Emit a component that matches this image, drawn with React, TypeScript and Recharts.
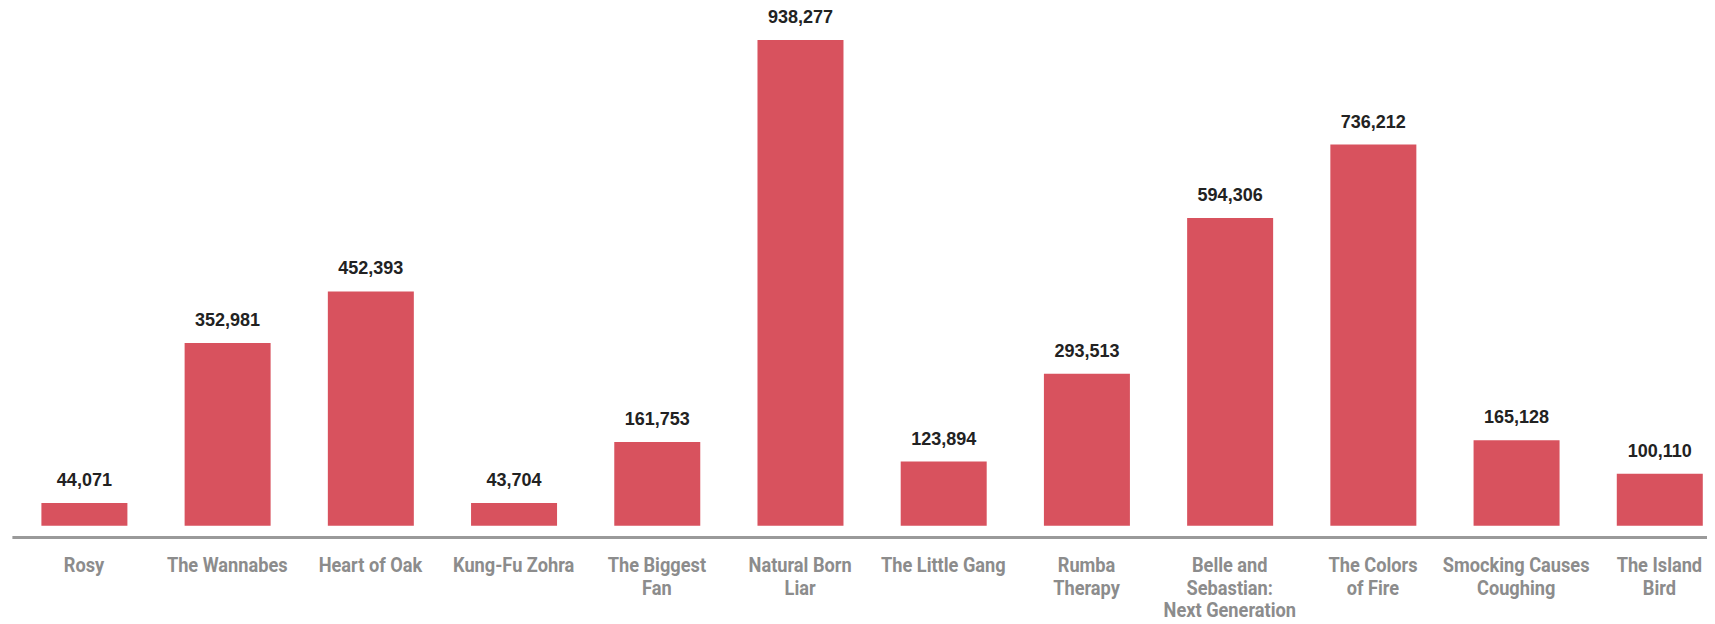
import React from "react";
import { BarChart, Bar, XAxis, YAxis, LabelList } from "recharts";

const categories = [
  "Rosy",
  "The Wannabes",
  "Heart of Oak",
  "Kung-Fu Zohra",
  "The Biggest Fan",
  "Natural Born Liar",
  "The Little Gang",
  "Rumba Therapy",
  "Belle and Sebastian: Next Generation",
  "The Colors of Fire",
  "Smocking Causes Coughing",
  "The Island Bird",
];

const values = [44071, 352981, 452393, 43704, 161753, 938277, 123894, 293513, 594306, 736212, 165128, 100110];

const tickLines = [
  ["Rosy"],
  ["The Wannabes"],
  ["Heart of Oak"],
  ["Kung-Fu Zohra"],
  ["The Biggest", "Fan"],
  ["Natural Born", "Liar"],
  ["The Little Gang"],
  ["Rumba", "Therapy"],
  ["Belle and", "Sebastian:", "Next Generation"],
  ["The Colors", "of Fire"],
  ["Smocking Causes", "Coughing"],
  ["The Island", "Bird"],
];

const data = categories.map((name, i) => ({ name, value: values[i], lines: tickLines[i] }));

const LABEL_FONT = "Roboto, 'Liberation Sans', sans-serif";
const VALUE_FONT = "'Liberation Sans', Arial, Helvetica, sans-serif";

const CustomTick = (props: any) => {
  const { x, y, payload } = props;
  const lines: string[] = tickLines[payload.index] || [String(payload.value)];
  return (
    <g transform={`translate(${x},${y}) scale(0.91,1)`}>
      <text
        textAnchor="middle"
        fill="#8c8c8c"
        fontFamily={LABEL_FONT}
        fontWeight="bold"
        fontSize={20}
      >
        {lines.map((l, i) => (
          <tspan key={i} x={0} y={35 + i * 22.5}>
            {l}
          </tspan>
        ))}
      </text>
    </g>
  );
};

export default function App() {
  return (
    <div style={{ width: 1707, height: 616, overflow: "hidden", background: "#fff" }}>
      <BarChart
        width={1723}
        height={616}
        data={data}
        margin={{ top: 0, right: 0, bottom: 6.5, left: 4.4 }}
      >
        <XAxis
          dataKey="name"
          interval={0}
          height={80}
          tickLine={false}
          tickSize={0}
          tickMargin={0}
          axisLine={{ stroke: "#9a9a9a", strokeWidth: 3 }}
          tick={<CustomTick />}
        />
        <YAxis hide domain={[-22800, 1000000]} allowDataOverflow type="number" />
        <Bar dataKey="value" fill="#D8525E" barSize={86} isAnimationActive={false}>
          <LabelList
            dataKey="value"
            position="top"
            offset={17}
            formatter={(v: any) => Number(v).toLocaleString("en-US")}
            style={{ fill: "#222", fontSize: 18, fontWeight: "bold", fontFamily: VALUE_FONT }}
          />
        </Bar>
      </BarChart>
    </div>
  );
}
